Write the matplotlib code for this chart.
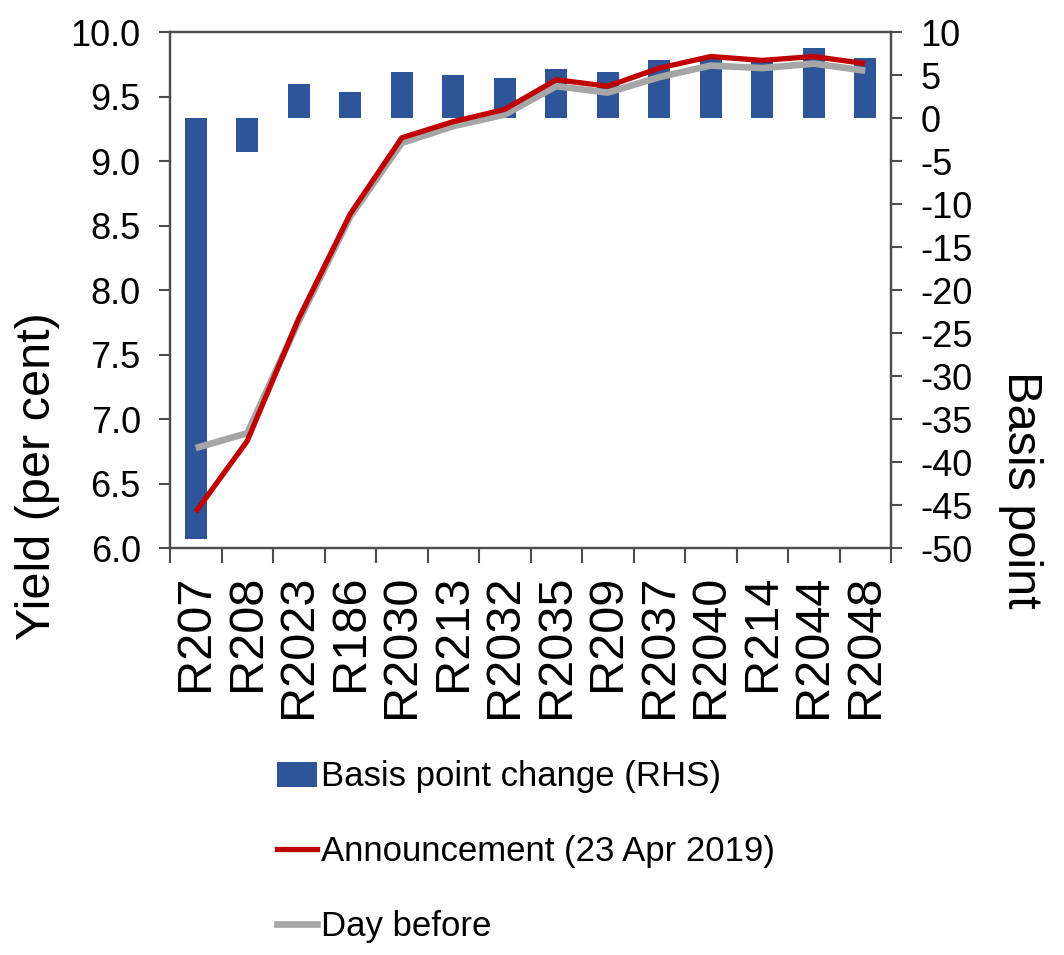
import matplotlib
matplotlib.use("Agg")
import matplotlib.pyplot as plt
import numpy as np
from matplotlib.patches import Patch
from matplotlib.lines import Line2D

categories = ["R207", "R208", "R2023", "R186", "R2030", "R213", "R2032",
              "R2035", "R209", "R2037", "R2040", "R214", "R2044", "R2048"]
bp_change = [-49, -4, 4, 3, 5.3, 5, 4.7, 5.7, 5.3, 6.8, 7, 6.5, 8.1, 7]
announcement = [6.28, 6.83, 7.78, 8.59, 9.18, 9.305, 9.40, 9.63, 9.58, 9.72,
                9.81, 9.78, 9.81, 9.755]
day_before = [6.775, 6.89, 7.76, 8.57, 9.14, 9.27, 9.36, 9.58, 9.53, 9.65,
              9.74, 9.72, 9.755, 9.70]
left_ticks = [6.0, 6.5, 7.0, 7.5, 8.0, 8.5, 9.0, 9.5, 10.0]
right_ticks = list(range(-50, 11, 5))
legend_labels = ["Basis point change (RHS)", "Announcement (23 Apr 2019)",
                 "Day before"]

NARROW = ["Liberation Sans Narrow", "Liberation Sans", "DejaVu Sans"]
REG = ["Liberation Sans", "DejaVu Sans"]

BAR_C = "#2E5597"
RED_C = "#C00000"
GRAY_C = "#A6A6A6"
SPINE_C = "#4D4D4D"

W, H = 1064, 955
fig = plt.figure(figsize=(W / 100, H / 100), dpi=100)
ax = fig.add_axes([170 / W, 1 - 548 / H, (891 - 170) / W, (548 - 32) / H])
ax2 = ax.twinx()

x = np.arange(len(categories))
ax2.bar(x, bp_change, width=0.42, color=BAR_C, zorder=1)
ax2.set_ylim(-50, 10)
ax2.set_yticks(right_ticks)
ax2.set_yticklabels([str(t) for t in right_ticks], family=NARROW, fontsize=26)

ax.set_zorder(ax2.get_zorder() + 1)
ax.patch.set_visible(False)
ax.plot(x, day_before, color=GRAY_C, lw=4.8, solid_capstyle="butt", zorder=3)
ax.plot(x, announcement, color=RED_C, lw=3.8, solid_capstyle="butt", zorder=4)
ax.set_ylim(6.0, 10.0)
ax.set_yticks(left_ticks)
ax.set_yticklabels([f"{t:.1f}" for t in left_ticks], family=NARROW, fontsize=26)
ax.set_xlim(-0.5, len(categories) - 0.5)

ax.set_xticks(np.arange(len(categories) + 1) - 0.5)
ax.set_xticklabels([])
ax.set_xticks(x, minor=True)
ax.set_xticklabels(categories, minor=True, rotation=90, family=REG,
                   fontsize=35, va="top", ha="center")
ax.tick_params(axis="x", which="major", length=11, width=1.5, color=SPINE_C,
               direction="out")
ax.tick_params(axis="x", which="minor", length=0, pad=19)
ax.tick_params(axis="y", length=8, width=1.5, color=SPINE_C, pad=13)
ax2.tick_params(axis="y", length=8, width=1.5, color=SPINE_C, pad=13)

for a in (ax, ax2):
    for s in a.spines.values():
        s.set_color(SPINE_C)
        s.set_linewidth(1.6)

fig.text(38 / W, 1 - 476 / H, "Yield (per cent)", rotation=90, family=REG,
         fontsize=35, ha="center", va="center")
fig.text(1020 / W, 1 - 490 / H, "Basis point", rotation=-90, family=REG,
         fontsize=35, ha="center", va="center")

handles = [Patch(facecolor=BAR_C, edgecolor="none"),
           Line2D([], [], color=RED_C, lw=3.8),
           Line2D([], [], color=GRAY_C, lw=4.8)]
fig.legend(handles, legend_labels, loc="upper left",
           bbox_to_anchor=(274 / W, 1 - 757 / H), frameon=False,
           prop={"family": NARROW, "size": 25}, handlelength=1.15,
           handleheight=0.72, handletextpad=0.1, labelspacing=1.2,
           borderaxespad=0, borderpad=0.1)

fig.savefig("out.png", dpi=100)
